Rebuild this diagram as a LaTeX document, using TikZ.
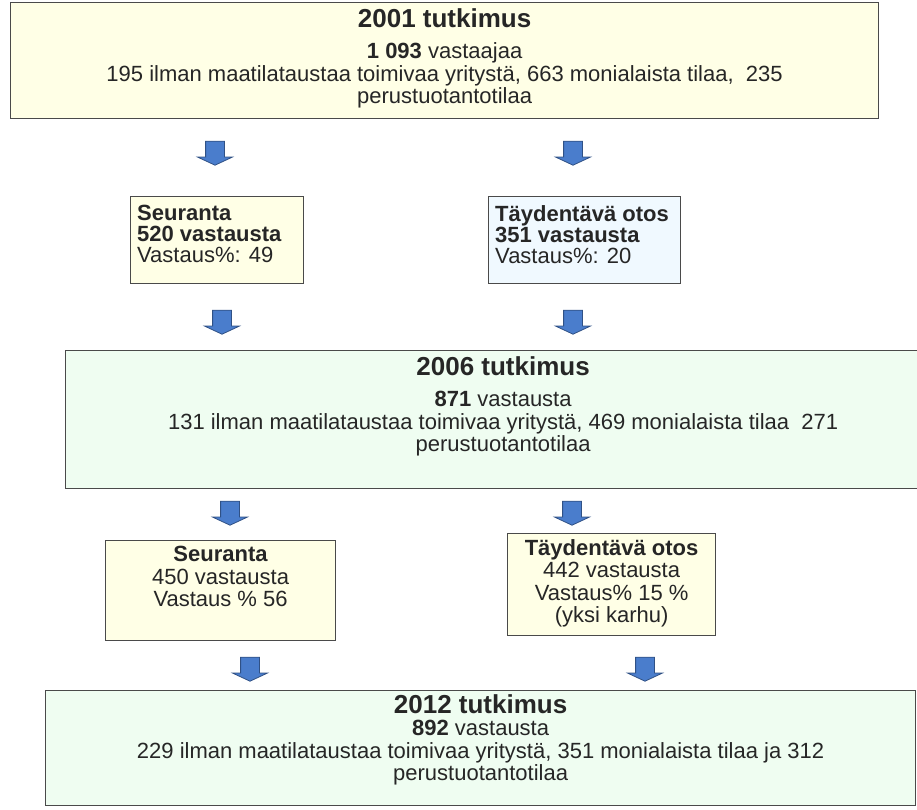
\documentclass[tikz,border=0pt]{standalone}
\usepackage{fontspec}
\setmainfont{Liberation Sans}
\usetikzlibrary{positioning,shapes.arrows}
\definecolor{boxyellow}{HTML}{FFFFE6}
\definecolor{boxblue}{HTML}{F0F9FF}
\definecolor{boxgreen}{HTML}{EFFDF1}
\definecolor{boxline}{HTML}{4A4A4A}
\definecolor{arrowblue}{HTML}{4A7DCC}
\tikzset{
  box/.style={draw=boxline,line width=1.2pt,anchor=north west,inner sep=0pt},
  yellowbox/.style={box,fill=boxyellow},
  bluebox/.style={box,fill=boxblue},
  greenbox/.style={box,fill=boxgreen},
  txt/.style={align=center,inner sep=0pt,text=black!85,font=\fontsize{22}{22.5}\selectfont},
  ltxt/.style={txt,align=left,anchor=north west,font=\fontsize{22}{21}\selectfont},
  downarrow/.style={single arrow,shape border rotate=270,fill=arrowblue,draw=arrowblue!65!black,
    line width=0.8pt,inner sep=9pt,minimum height=24pt,single arrow head extend=8pt,
    single arrow tip angle=130},
}

\begin{document}
\begin{tikzpicture}[x=1pt,y=-1pt]
  \useasboundingbox (0,0) rectangle (917,810);

  % 2001
  \node[yellowbox,minimum width=868pt,minimum height=116pt] (s2001) at (10,2) {};
  \node[txt,below=6pt of s2001.north] (t2001) {{\bfseries\fontsize{26}{28}\selectfont 2001 tutkimus}\\[9pt]
    \textbf{1 093} vastaajaa\\
    195 ilman maatilataustaa toimivaa yritystä, 663 monialaista tilaa,\ \ 235\\
    perustuotantotilaa};

  \node[downarrow] (a1l) at (215,151) {};
  \node[downarrow] (a1r) at (573,151) {};

  % seuranta / taydentava 1
  \node[yellowbox,minimum width=173pt,minimum height=87pt] (seur1) at (130,196) {};
  \node[ltxt,below right=9pt and 7pt of seur1.north west] (tseur1) {\textbf{Seuranta}\\
    \textbf{520 vastausta}\\
    Vastaus\%: 49};
  \node[bluebox,minimum width=192pt,minimum height=87pt] (tayd1) at (488,196) {};
  \node[ltxt,below right=9pt and 7pt of tayd1.north west] (ttayd1) {\textbf{Täydentävä otos}\\
    \textbf{351 vastausta}\\
    Vastaus\%: 20};

  \node[downarrow] (a2l) at (222,320) {};
  \node[downarrow] (a2r) at (573,320) {};

  % 2006
  \node[greenbox,minimum width=875pt,minimum height=138pt] (s2006) at (65,350) {};
  \node[txt,below=6pt of s2006.north] (t2006) {{\bfseries\fontsize{26}{28}\selectfont 2006 tutkimus}\\[9pt]
    \textbf{871} vastausta\\
    131 ilman maatilataustaa toimivaa yritystä, 469 monialaista tilaa\ \ 271\\
    perustuotantotilaa};

  \node[downarrow] (a3l) at (230,511) {};
  \node[downarrow] (a3r) at (572,511) {};

  % seuranta / taydentava 2
  \node[yellowbox,minimum width=230pt,minimum height=100pt] (seur2) at (105,540) {};
  \node[txt,below=6pt of seur2.north] (tseur2) {\textbf{Seuranta}\\
    450 vastausta\\
    Vastaus \% 56};
  \node[yellowbox,minimum width=208pt,minimum height=102pt] (tayd2) at (507,533) {};
  \node[txt,below=6pt of tayd2.north] (ttayd2) {\textbf{Täydentävä otos}\\
    442 vastausta\\
    Vastaus\% 15 \%\\
    (yksi karhu)};

  \node[downarrow] (a4l) at (250,667) {};
  \node[downarrow] (a4r) at (645,667) {};

  % 2012
  \node[greenbox,minimum width=870pt,minimum height=115pt] (s2012) at (45,690) {};
  \node[txt,below=4pt of s2012.north] (t2012) {{\bfseries\fontsize{26}{28}\selectfont 2012 tutkimus}\\
    \textbf{892} vastausta\\
    229 ilman maatilataustaa toimivaa yritystä, 351 monialaista tilaa ja 312\\
    perustuotantotilaa};
\end{tikzpicture}
\end{document}
